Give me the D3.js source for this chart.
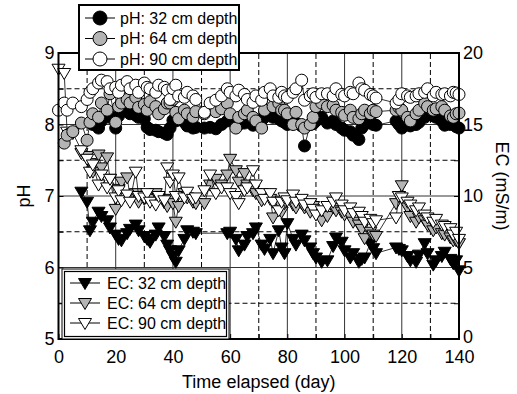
<!DOCTYPE html>
<html>
<head>
<meta charset="utf-8">
<script src="https://cdn.jsdelivr.net/npm/d3@7"></script>
<style>
  html, body { margin: 0; padding: 0; background: #fff; }
  svg { display: block; font-family: "Liberation Sans", Arial, sans-serif; }
</style>
</head>
<body>
<svg id="chart" width="517" height="394"></svg>
<script>
// sampling days (union of all series; null = no reading that day)
const days = [
  0, 2, 3, 5, 8, 10, 11, 12, 14, 15, 17, 18, 20, 21, 22, 24, 25, 27, 28, 30, 31, 32, 34, 35, 37, 38, 39, 40, 41, 42, 44, 45, 47, 48,
  51, 53, 55, 57,
  59, 60, 62, 63, 65, 66, 68, 69, 71, 72, 74, 75, 77, 78, 79, 80, 82, 83, 85, 86, 88, 89, 90, 92,
  94, 96, 97, 99, 100, 102, 103, 105, 106, 107, 109, 110, 111,
  118, 119, 120, 122, 123, 125, 126, 128, 129, 131, 132, 134, 135, 137, 138, 139, 140
];

const ph32 = [
  null, null, null, null, null, null, null, 8.0, 7.95, 8.05, 8.16, 8.1, 7.95, 8.12, 8.22, 8.2, 8.15, 8.13, 8.1, 8.08, 7.96, 7.93, 7.92, 7.9, 7.88, 7.86, 7.95, 8.06, 8.05, 8.1, 8.03, 7.98, 7.95, 7.96,
  7.95, 7.96, 7.94, 8.0,
  8.05, 8.07, 8.04, 8.0, 8.02, 8.05, 7.99, 8.02, 8.06, 8.1, 8.17, 8.1, 8.08, 8.05, 8.03, 8.0, 8.05, 8.02, 7.98, 7.7, 8.0, 8.01, 8.05, 8.1,
  8.02, 8.05, 8.0, 7.95, 7.92, 7.9, 7.85, 7.79, 7.95, 8.0, 8.05, 8.0, 7.99,
  8.05, 8.0, 7.95, 8.0, 7.98, 8.0, 8.03, 8.1, 8.15, 8.12, 8.1, 8.05, 7.99, 8.0, 8.05, 7.97, 7.95
];
const ph64 = [
  null, 7.74, 7.85, 7.9, 8.02, 7.78, 8.03, 8.15, 8.1, 8.3, 8.2, 8.43, 8.03, 8.25, 8.3, 8.35, 8.3, 8.38, 8.24, 8.28, 8.2, 8.32, 8.25, 8.15, 8.22, 8.3, 8.3, 8.35, 8.17, 8.08, 8.2, 8.15, 8.1, 8.18,
  8.15, 8.22, 8.18, 8.22,
  8.3, 8.15, 7.95, 8.1, 8.15, 8.2, 8.1, 8.05, 7.95, 8.2, 8.43, 8.25, 8.3, 8.2, 8.2, 8.15, 8.0, 8.17, 8.0, 7.95, 8.0, 8.1, 8.25, 8.3,
  8.25, 8.27, 8.2, 8.17, 8.13, 8.2, 8.1, 8.08, 8.15, 8.2, 8.15, 8.2, 8.18,
  8.2, 8.24, 8.2, 8.1, 8.05, 8.15, 8.2, 8.3, 8.25, 8.2, 8.22, 8.25, 8.2, 8.12, 8.1, 8.15, 8.16
];
const ph90 = [
  8.2, 8.3, 8.2, 8.3, 8.25, 8.35, 8.45, 8.5, 8.58, 8.62, 8.6, 8.5, 8.52, 8.45, 8.55, 8.6, 8.5, 8.55, 8.45, 8.58, 8.52, 8.5, 8.45, 8.55, 8.52, 8.48, 8.35, 8.5, 8.55, 8.4, 8.38, 8.45, 8.4, 8.35,
  8.17, 8.3, 8.34, 8.4,
  8.5, 8.45, 8.4, 8.48, 8.42, 8.35, 8.31, 8.4, 8.34, 8.45, 8.5, 8.4, 8.38, 8.45, 8.4, 8.38, 8.45, 8.5, 8.62, 8.34, 8.4, 8.43, 8.38, 8.43,
  8.43, 8.4, 8.5, 8.42, 8.4, 8.45, 8.43, 8.58, 8.5, 8.48, 8.42, 8.4, 8.37,
  8.3, 8.35, 8.43, 8.4, 8.38, 8.4, 8.43, 8.45, 8.5, 8.4, 8.45, 8.42, 8.43, 8.4, 8.45, 8.44, 8.42
];

const ec32 = [
  null, null, null, null, 10.3, 9.6, 7.6, 8.2, 8.9, 8.6, 8.3, 7.8, 7.3, 7.0, 6.9, 7.4, 7.7, 8.0, 7.6, 7.2, 7.0, 6.8, 7.3, 7.8, 7.2, 6.6, 6.2, 5.8, 5.4, 6.2, 7.0, 7.6, 7.5, 7.4,
  null, null, null, null,
  7.4, 7.5, 7.0, 6.2, 6.6, 7.2, 7.4, 7.8, 6.6, 6.3, 7.0, 6.0, 7.6, 6.4, 6.0, 8.1, 7.0, 6.6, 7.3, 6.9, 6.4, 6.0, 5.7, 5.4,
  5.5, 6.5, 7.1, 6.8, 6.2, 5.7, 6.0, 5.4, 5.6, 5.7, 6.7, 6.35, 6.0,
  6.4, 6.3, 6.2, 5.8, 5.5, 5.4, 5.9, 6.7, 6.0, 5.2, 5.5, 5.8, 6.1, 5.6, 5.3, 5.5, 4.8
];
const ec64 = [
  null, null, null, null, 13.0, 12.8, 12.3, 11.7, 12.9, 12.0, 12.7, 11.2, 9.1, 10.5, 11.0, 11.3, 10.0, 10.2, 9.6, 9.8, 9.9, 9.8, 10.2, 9.9, 9.55, 9.3, 9.8, 9.5, 8.2, 9.3, 10.2, 9.9, 9.6, 9.5,
  9.5, 10.8, 11.2, 10.8,
  11.5, 12.6, 11.8, 11.0, 11.6, 10.8, 10.4, 10.2, 9.7, 10.0, 9.8, 8.5, 9.6, 8.9, 9.5, 9.8, 9.4, 9.2, 9.5, 9.2, 8.9, 9.3, 8.9, 8.3,
  8.6, 9.2, 9.0, 8.9, 8.7, 8.6, 8.2, 8.0, 7.7, 7.05, 7.5, 7.3, 7.2,
  9.5, 10.0, 10.75, 9.2, 8.6, 8.2, 8.5, 8.3, 8.0, 7.6, 7.8, 7.4, 7.3, 7.1, 6.9, 6.9, 6.7
];
const ec90 = [
  18.9, 18.6, 14.5, 14.4, 13.2, 12.6, 11.7, 12.2, 10.8, 11.5, 10.6, 11.2, 9.9, 10.4, 9.7, 10.1, 9.6, 11.7, 10.0, 9.9, 10.2, 9.6, 9.4, 10.0, 9.7, 12.0, 11.0, 11.5, 10.0, 11.3, 9.9, 10.3, 9.8, 9.9,
  10.4, 11.5, 10.2, 10.6,
  10.6, 10.2, 10.0, 9.5, 10.4, 10.6, 11.8, 10.8, 10.2, 9.8, 10.2, 9.6, 9.0, 9.6, 9.9, 9.7, 10.1, 9.6, 9.8, 9.4, 9.5, 9.1, 8.7, 9.0,
  9.3, 9.6, 9.9, 9.4, 9.0, 9.2, 8.8, 8.9, 8.6, 8.2, 8.4, 8.1, 8.3,
  8.5, 10.0, 9.9, 9.6, 9.4, 9.0, 9.2, 8.7, 8.5, 8.2, 8.4, 8.0, 7.9, 7.75, 7.3, 7.5, 7.0
];

const xTicks = [0, 20, 40, 60, 80, 100, 120, 140];
const phTicks = [5, 6, 7, 8, 9];
const ecTicks = [0, 5, 10, 15, 20];
const phLabels = ["pH: 32 cm depth", "pH: 64 cm depth", "pH: 90 cm depth"];
const ecLabels = ["EC: 32 cm depth", "EC: 64 cm depth", "EC: 90 cm depth"];
const fills = ["#000", "#b4b4b4", "#fff"];

const svg = d3.select("#chart");
const margins = { top: 53, right: 58, bottom: 55, left: 58.5 };
const W = 517, H = 394;

const xScale = d3.scaleLinear().domain([0, 140]).range([margins.left, W - margins.right]);
const yPh = d3.scaleLinear().domain([5, 9]).range([H - margins.bottom, margins.top]);
const yEc = d3.scaleLinear().domain([0, 20]).range([H - margins.bottom, margins.top]);

const x0 = xScale(0), x1 = xScale(140), y0 = yPh(5), y1 = yPh(9);

// grid
const grid = svg.append("g");
grid.selectAll(".vg").data(d3.range(10, 140, 10)).enter().append("line")
  .attr("x1", d => xScale(d)).attr("x2", d => xScale(d))
  .attr("y1", y0).attr("y2", y1)
  .attr("stroke", d => d % 20 === 0 ? "#333" : "#000")
  .attr("stroke-width", 1)
  .attr("stroke-dasharray", d => d % 20 === 0 ? null : "5,3");
grid.selectAll(".hg").data([5.5, 6, 6.5, 7, 7.5, 8, 8.5]).enter().append("line")
  .attr("x1", x0).attr("x2", x1)
  .attr("y1", d => yPh(d)).attr("y2", d => yPh(d))
  .attr("stroke", d => Number.isInteger(d) ? "#333" : "#000")
  .attr("stroke-width", 1)
  .attr("stroke-dasharray", d => Number.isInteger(d) ? null : "5,3");

// inward ticks
const tickG = svg.append("g");
tickG.append("g").attr("transform", `translate(${x0},0)`)
  .call(d3.axisRight(yPh).tickValues(d3.range(5, 9.01, 0.5)).tickSize(5).tickFormat(""));
tickG.append("g").attr("transform", `translate(${x1},0)`)
  .call(d3.axisLeft(yPh).tickValues(d3.range(5, 9.01, 0.5)).tickSize(5).tickFormat(""));
tickG.append("g").attr("transform", `translate(0,${y0})`)
  .call(d3.axisTop(xScale).tickValues(d3.range(0, 141, 10)).tickSize(5).tickFormat(""));
tickG.selectAll(".domain").remove();
tickG.selectAll("line").attr("stroke", "#000");

// series
const lineFor = yScale => d3.line().x(d => xScale(d.day)).y(d => yScale(d.v));
const triPath = "M-6.5,-4.5L6.5,-4.5L0,6.5Z";

const drawSeries = (values, yScale, fill, shape) => {
  const pts = days.map((d, i) => ({ day: d, v: values[i] })).filter(d => d.v != null);
  const g = svg.append("g");
  g.append("path").datum(pts)
    .attr("d", lineFor(yScale))
    .attr("fill", "none").attr("stroke", "#000").attr("stroke-width", 0.8);
  if (shape === "circle") {
    g.selectAll("circle").data(pts).enter().append("circle")
      .attr("cx", d => xScale(d.day)).attr("cy", d => yScale(d.v)).attr("r", 6)
      .attr("fill", fill).attr("stroke", "#000").attr("stroke-width", 1);
  } else {
    g.selectAll("path.m").data(pts).enter().append("path")
      .attr("class", "m")
      .attr("d", triPath)
      .attr("transform", d => `translate(${xScale(d.day)},${yScale(d.v)})`)
      .attr("fill", fill).attr("stroke", "#000").attr("stroke-width", 1);
  }
};

[ec32, ec64, ec90].forEach((s, i) => drawSeries(s, yEc, fills[i], "tri"));
[ph32, ph64, ph90].forEach((s, i) => drawSeries(s, yPh, fills[i], "circle"));

// frame
svg.append("rect")
  .attr("x", x0).attr("y", y1).attr("width", x1 - x0).attr("height", y0 - y1)
  .attr("fill", "none").attr("stroke", "#000").attr("stroke-width", 2);

// axes labels
const styleAxis = g => {
  g.select(".domain").remove();
  g.selectAll("text").attr("font-size", 18).attr("fill", "#000")
    .attr("font-family", "Liberation Sans, Arial, sans-serif");
};
svg.append("g").attr("transform", `translate(${x0},0)`)
  .call(d3.axisLeft(yPh).tickValues(phTicks).tickFormat(d3.format("d")).tickSize(0).tickPadding(4)).call(styleAxis);
svg.append("g").attr("transform", `translate(${x1},0)`)
  .call(d3.axisRight(yEc).tickValues(ecTicks).tickFormat(d3.format("d")).tickSize(0).tickPadding(4)).call(styleAxis)
  .selectAll("text").attr("dy", d => d === 0 ? "0.2em" : "0.32em");
svg.append("g").attr("transform", `translate(0,${y0})`)
  .call(d3.axisBottom(xScale).tickValues(xTicks).tickSize(0).tickPadding(11)).call(styleAxis);

svg.append("text")
  .attr("transform", "translate(24,196) rotate(-90)")
  .attr("text-anchor", "middle").attr("dominant-baseline", "central")
  .attr("font-size", 18).text("pH");
svg.append("text")
  .attr("transform", "translate(502,186) rotate(90)")
  .attr("text-anchor", "middle").attr("dominant-baseline", "central")
  .attr("font-size", 18).text("EC (mS/m)");
svg.append("text")
  .attr("x", (x0 + x1) / 2).attr("y", 388)
  .attr("text-anchor", "middle")
  .attr("font-size", 18).text("Time elapsed (day)");

// legends
const drawLegend = (box, labels, shape, double) => {
  const g = svg.append("g");
  g.append("rect").attr("x", box.x).attr("y", box.y).attr("width", box.w).attr("height", box.h)
    .attr("fill", "#fff").attr("stroke", "#000").attr("stroke-width", double ? 1 : 2);
  if (double) {
    g.append("rect").attr("x", box.x + 2.5).attr("y", box.y + 2.5).attr("width", box.w - 5).attr("height", box.h - 5)
      .attr("fill", "none").attr("stroke", "#000").attr("stroke-width", 1.2);
  }
  labels.forEach((lab, i) => {
    const cy = box.y + box.first + i * box.step;
    g.append("line").attr("x1", box.x + box.lx1).attr("x2", box.x + box.lx2)
      .attr("y1", cy).attr("y2", cy).attr("stroke", "#000").attr("stroke-width", 1);
    const mx = box.x + (box.lx1 + box.lx2) / 2;
    if (shape === "circle") {
      g.append("circle").attr("cx", mx).attr("cy", cy).attr("r", 7)
        .attr("fill", fills[i]).attr("stroke", "#000").attr("stroke-width", 1);
    } else {
      g.append("path").attr("d", triPath).attr("transform", `translate(${mx},${cy})`)
        .attr("fill", fills[i]).attr("stroke", "#000").attr("stroke-width", 1);
    }
    g.append("text").attr("x", box.x + box.tx).attr("y", cy)
      .attr("dominant-baseline", "central").attr("font-size", 16).text(lab);
  });
};

drawLegend({ x: 79, y: 5, w: 160, h: 65, first: 13, step: 20.5, lx1: 6, lx2: 36, tx: 41 }, phLabels, "circle", false);
drawLegend({ x: 62, y: 269, w: 167, h: 70, first: 14, step: 20, lx1: 8, lx2: 38, tx: 45 }, ecLabels, "tri", true);
</script>
</body>
</html>
